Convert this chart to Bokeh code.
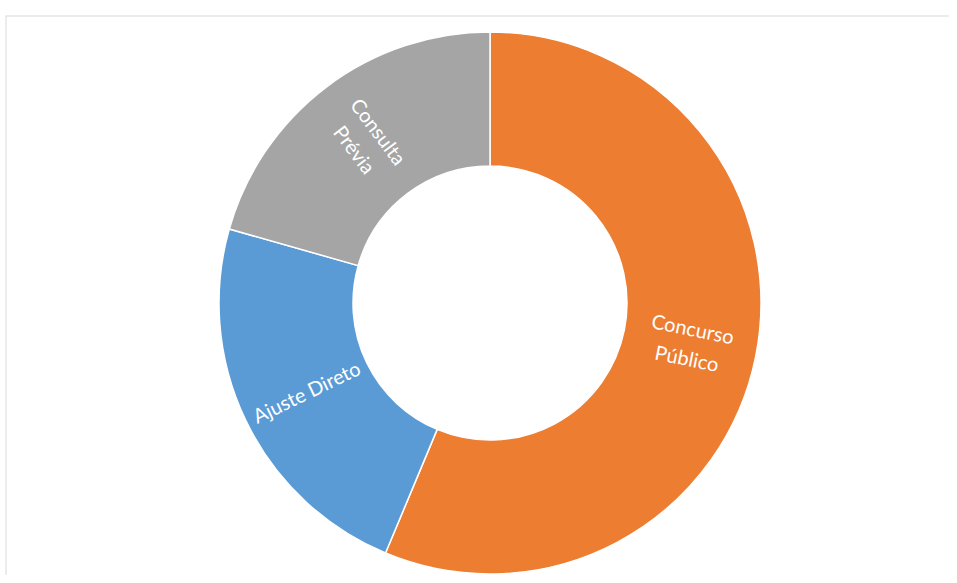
import math
from bokeh.plotting import figure
from bokeh.models import Range1d, ColumnDataSource, Span
from bokeh.core.properties import value
from bokeh.embed import file_html
from bokeh.resources import INLINE

categories = ["Concurso Público", "Ajuste Direto", "Consulta Prévia"]
label_texts = ["Concurso\nPúblico", "Ajuste Direto", "Consulta\nPrévia"]
shares = [56.3, 23.1, 20.6]
colors = ["#ED7D31", "#5B9BD5", "#A5A5A5"]

R_IN, R_OUT = 137, 271

total = sum(shares)
starts, ends, lx, ly, la = [], [], [], [], []
cum = 0.0
for v in shares:
    a0 = math.pi / 2 - 2 * math.pi * cum / total
    cum += v
    a1 = math.pi / 2 - 2 * math.pi * cum / total
    starts.append(a0)
    ends.append(a1)
    mid = (a0 + a1) / 2
    rm = (R_IN + R_OUT) / 2
    lx.append(rm * math.cos(mid))
    ly.append(rm * math.sin(mid))
    ang = mid
    while ang > math.pi / 2:
        ang -= math.pi
    while ang < -math.pi / 2:
        ang += math.pi
    la.append(ang)

src = ColumnDataSource(dict(cat=categories, start=starts, end=ends, color=colors))
lsrc = ColumnDataSource(dict(x=lx, y=ly, text=label_texts, angle=la))

X0, X1, Y0, Y1 = -484.5, 459.5, -272.5, 287.5
p = figure(width=949, height=575, output_backend="svg", toolbar_location=None,
           x_range=Range1d(X0, X1), y_range=Range1d(Y0, Y1),
           min_border_left=5, min_border_right=0, min_border_top=15, min_border_bottom=0)
p.axis.visible = False
p.grid.visible = False
p.outline_line_color = None
p.background_fill_color = "white"
p.border_fill_color = "white"

p.add_layout(Span(location=Y1, dimension="width", line_color="#d9d9d9", line_width=2))
p.add_layout(Span(location=X0, dimension="height", line_color="#d9d9d9", line_width=2))

p.annular_wedge(x=0, y=0, inner_radius=R_IN, outer_radius=R_OUT,
                start_angle="start", end_angle="end", direction="clock",
                fill_color="color", line_color="white", line_width=1.5, source=src)

p.text(x="x", y="y", text="text", angle="angle", source=lsrc,
       text_color="white", text_font=value("Lato"), text_font_size="20px",
       text_align="center", text_baseline="middle", text_line_height=1.25)

open("out.html", "w").write(file_html(p, INLINE))
